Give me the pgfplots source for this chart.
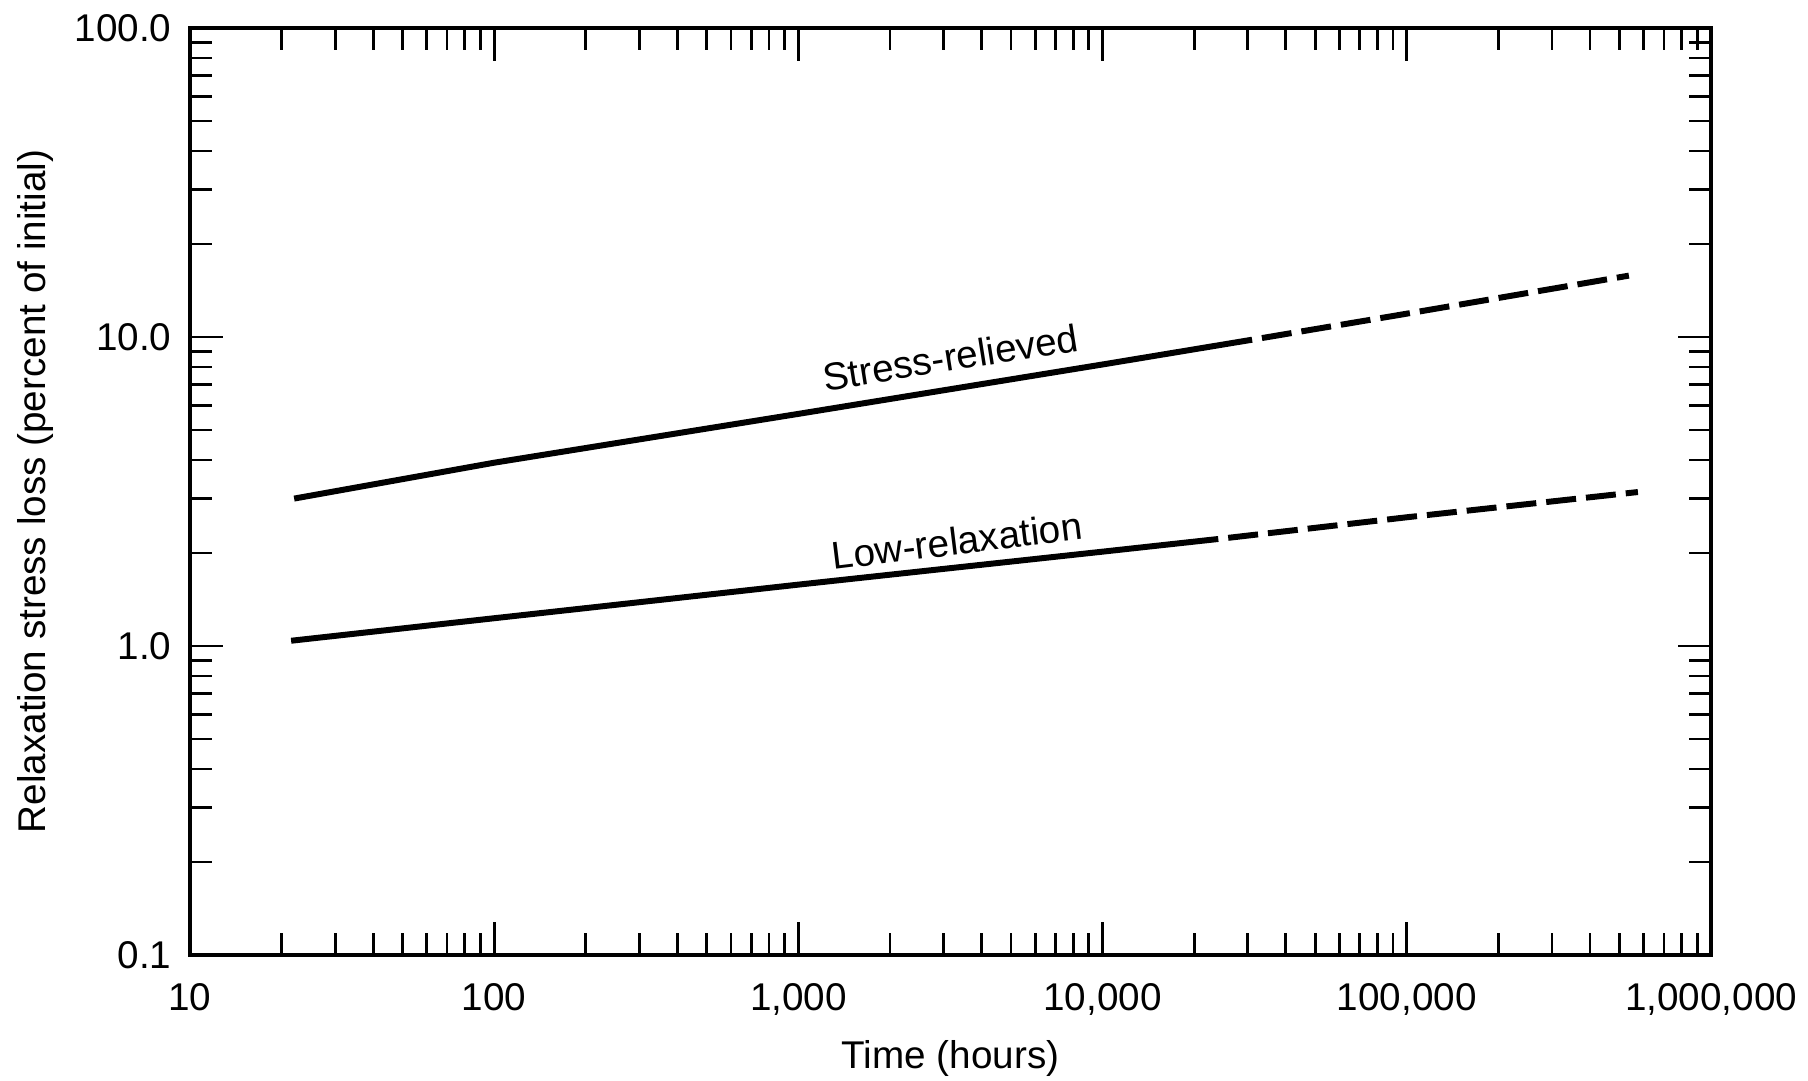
\documentclass[border=0pt]{standalone}
\usepackage{fontspec}
\setmainfont{Liberation Sans}
\usepackage{pgfplots}
\pgfplotsset{compat=1.18}

\begin{document}
\fontsize{11}{13}\selectfont
\begin{tikzpicture}
\useasboundingbox (-1.90,-1.25) rectangle (16.18,9.55);
\begin{axis}[
  at={(0,0)}, anchor=south west,
  scale only axis, width=15.21cm, height=9.27cm,
  xmode=log, ymode=log,
  xmin=10, xmax=1000000, ymin=0.1, ymax=100,
  xtick={10,100,1000,10000,100000,1000000},
  xticklabels={10,100,{1,000},{10,000},{100,000},{1,000,000}},
  ytick={0.1,1,10,100},
  yticklabels={0.1,1.0,10.0,100.0},
  tick align=inside,
  major tick length=0.33cm, minor tick length=0.22cm,
  tick style={line width=0.8pt, black},
  axis line style={line width=1.3pt},
  xticklabel style={yshift=-0.15cm},
  yticklabel style={xshift=-0.05cm},
  xlabel={Time (hours)},
  ylabel={Relaxation stress loss (percent of initial)},
  xlabel style={at={(axis description cs:0.5,-0.1219)}, anchor=base},
  ylabel style={at={(axis description cs:-0.0953,0.5)}, anchor=base},
]
% stress-relieved, measured part
\addplot[black, line width=1.7pt] coordinates {
  (22,3.0) (100,3.92) (1000,5.64) (10000,8.15) (31000,9.8) };
% stress-relieved, extrapolated
\addplot[black, line width=1.7pt, dash pattern=on 3mm off 1mm, dash phase=3mm] coordinates {
  (31000,9.8) (100000,11.9) (537000,15.8) };
% low-relaxation, measured part
\addplot[black, line width=1.7pt] coordinates {
  (21.5,1.04) (100,1.23) (1000,1.58) (10000,2.02) (24000,2.22) };
% low-relaxation, extrapolated
\addplot[black, line width=1.7pt, dash pattern=on 3mm off 1mm, dash phase=3mm] coordinates {
  (24000,2.22) (100000,2.61) (575000,3.15) };
\node[rotate=9] at (axis cs:3160,8.6) {Stress-relieved};
\node[rotate=7] at (axis cs:3320,2.19) {Low-relaxation};
\end{axis}
\end{tikzpicture}
\end{document}
